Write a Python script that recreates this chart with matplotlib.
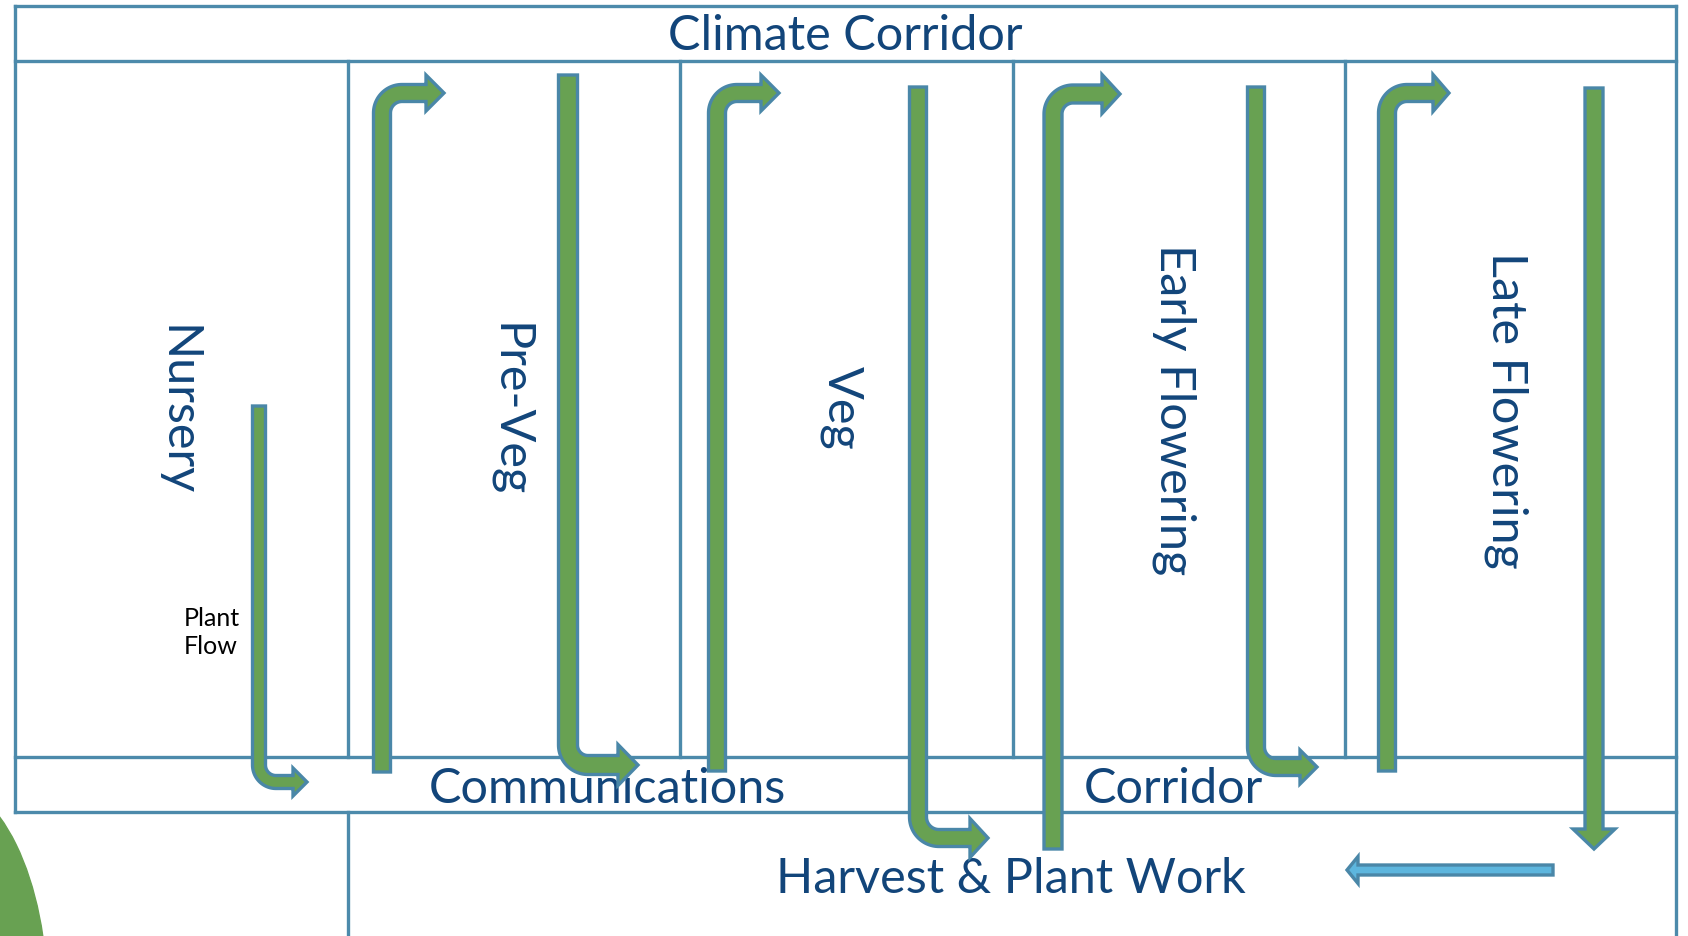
import numpy as np
import matplotlib
matplotlib.use("Agg")
import matplotlib.pyplot as plt
from matplotlib.patches import Polygon, Ellipse

plt.rcParams['font.family'] = ['Lato', 'DejaVu Sans']

# ---- content ----
title_top = "Climate Corridor"
corridor_words = ["Communications", "Corridor"]
bottom_label = "Harvest & Plant Work"
zone_labels = ["Nursery", "Pre-Veg", "Veg", "Early Flowering", "Late Flowering"]
note_lines = ["Plant", "Flow"]

# layout in pixel units (y grows downwards)
W, H = 1688, 936
frame_left, frame_right, frame_top = 15, 1676, 6
climate_bottom = 61
comm_top, comm_bottom = 757, 812
dividers = [348, 680, 1013, 1345]
zone_baseline_x = [164, 496, 828, 1161, 1493]
zone_center_y = [411, 410, 408, 410, 410]
note_baselines = [626, 654]

# bent arrows: shaft x, tail y, arm y, head base x, tip x, outer width, head half width, radius
bent_x = [259, 382, 568, 717, 918, 1053, 1256, 1387]
bent_tail = [406, 772, 75, 771, 87, 849, 87, 771]
bent_arm = [782, 93, 765, 93, 838, 94, 767, 93]
bent_base = [293, 426, 618, 761, 970, 1102, 1300, 1433]
bent_tip = [309, 446, 640, 781, 990, 1122, 1319, 1451]
bent_w = [16, 20, 22, 20, 20, 21, 20, 20]
bent_hw = [15.5, 19.5, 22, 19.5, 21, 21, 18.5, 20]
bent_r = [17, 20, 20, 20, 21, 20, 20, 20]

# straight arrows
down_x, down_top, down_base, down_tip, down_w, down_hw = 1594, 88, 829, 851, 21, 22.5
left_y, left_tail, left_base, left_tip, left_w, left_hw = 870, 1553, 1358, 1345, 13, 15

GREEN = "#68a152"
EDGE = "#4a87a8"
LINE = "#4c8aab"
TEXT = "#12457a"
BLUE = "#5db6de"


def arrow_poly(pts, w, head_len, hw):
    pts = np.asarray(pts, float)
    d = np.gradient(pts, axis=0)
    t = d / np.linalg.norm(d, axis=1)[:, None]
    n = np.column_stack([-t[:, 1], t[:, 0]])
    left = pts + n * w / 2
    right = pts - n * w / 2
    base, tb, nb = pts[-1], t[-1], n[-1]
    head = [base + nb * hw, base + tb * head_len, base - nb * hw]
    return np.vstack([left, head, right[::-1]])


def bent_path(x, y0, ya, xb, r):
    s = 1 if ya > y0 else -1
    cy = ya - s * r
    seg1 = np.column_stack([np.full(20, x), np.linspace(y0, cy, 20)])
    ang = np.linspace(np.pi, np.pi / 2 if s == 1 else 1.5 * np.pi, 30)
    arc = np.column_stack([x + r + r * np.cos(ang), cy + r * np.sin(ang)])
    seg2 = np.column_stack([np.linspace(x + r, xb, 20), np.full(20, ya)])
    pts = np.vstack([seg1[:-1], arc, seg2[1:]])
    keep = np.r_[True, np.linalg.norm(np.diff(pts, axis=0), axis=1) > 1e-6]
    return pts[keep]


fig = plt.figure(figsize=(W / 100, H / 100), dpi=100)
ax = fig.add_axes([0, 0, 1, 1])
ax.set_xlim(0, W)
ax.set_ylim(H, 0)
ax.axis("off")

# leaf shape peeking in at the bottom-left
ax.add_patch(Ellipse((-60, 1000), 215, 440, color=GREEN, zorder=0))

# frame
lw = 2.4
ax.plot([frame_left, frame_right], [frame_top, frame_top], color=LINE, lw=lw)
for y in [climate_bottom, comm_top, comm_bottom]:
    ax.plot([frame_left, frame_right], [y, y], color=LINE, lw=lw)
ax.plot([frame_left, frame_left], [frame_top, comm_bottom], color=LINE, lw=lw)
ax.plot([frame_right, frame_right], [frame_top, H], color=LINE, lw=lw)
for x in dividers:
    ax.plot([x, x], [climate_bottom, comm_top], color=LINE, lw=lw)
ax.plot([dividers[0], dividers[0]], [comm_bottom, H], color=LINE, lw=lw)

# text
big = 35
ax.text((frame_left + frame_right) / 2, 50, title_top, fontsize=big, color=TEXT,
        ha="center", va="baseline")
ax.text(607, 803, corridor_words[0], fontsize=big, color=TEXT, ha="center", va="baseline")
ax.text(1173, 803, corridor_words[1], fontsize=big, color=TEXT, ha="center", va="baseline")
ax.text(1011, 893, bottom_label, fontsize=big, color=TEXT, ha="center", va="baseline")
for lab, bx, cy in zip(zone_labels, zone_baseline_x, zone_center_y):
    ax.text(bx, cy, lab, fontsize=big, color=TEXT, rotation=-90, rotation_mode="anchor",
            ha="center", va="baseline")
for lab, by in zip(note_lines, note_baselines):
    ax.text(184, by, lab, fontsize=18, color="black", ha="left", va="baseline")

# arrows
ew = 2.4
for i in range(len(bent_x)):
    pts = bent_path(bent_x[i], bent_tail[i], bent_arm[i], bent_base[i], bent_r[i])
    poly = arrow_poly(pts, bent_w[i] - 3, bent_tip[i] - bent_base[i] - 2, bent_hw[i] - 1.5)
    ax.add_patch(Polygon(poly, closed=True, facecolor=GREEN, edgecolor=EDGE, lw=ew,
                         joinstyle="miter", zorder=3))

pts = np.column_stack([np.full(10, down_x), np.linspace(down_top, down_base, 10)])
ax.add_patch(Polygon(arrow_poly(pts, down_w - 3, down_tip - down_base - 2, down_hw - 1.5),
                     closed=True, facecolor=GREEN, edgecolor=EDGE, lw=ew, zorder=3))

pts = np.column_stack([np.linspace(left_tail, left_base, 10), np.full(10, left_y)])
ax.add_patch(Polygon(arrow_poly(pts, left_w - 3, left_base - left_tip - 2, left_hw - 1.5),
                     closed=True, facecolor=BLUE, edgecolor=EDGE, lw=ew, zorder=3))

fig.savefig("out.png", dpi=100)
